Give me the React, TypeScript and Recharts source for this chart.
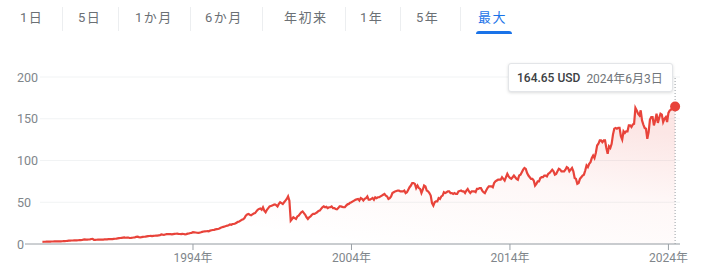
import React from 'react';
import { AreaChart, Area, XAxis, YAxis, CartesianGrid, ReferenceLine, ReferenceDot } from 'recharts';

// ---- data ----
const rangeTabs = ['1日', '5日', '1か月', '6か月', '年初来', '1年', '5年', '最大'];
const activeTab = '最大';

const years = [
  1984, 1985, 1986, 1987, 1988, 1989, 1990, 1991, 1992, 1993,
  1994, 1995, 1996, 1997, 1998, 1999, 2000, 2001, 2002, 2003,
  2004, 2005, 2006, 2007, 2008, 2009, 2010, 2011, 2012, 2013,
  2014, 2015, 2016, 2017, 2018, 2019, 2020, 2021, 2022, 2023, 2024,
];

// monthly closes (Jan..Dec), USD
const monthlyCloses: (number | null)[][] = [
  [null, null, null, null, null, null, 2.6, 2.7, 2.7, 2.8, 2.8, 2.9],
  [2.9, 3.0, 3.0, 3.1, 3.2, 3.2, 3.3, 3.2, 3.2, 3.3, 3.4, 3.5],
  [3.6, 3.8, 4.0, 4.1, 4.2, 4.2, 4.3, 4.4, 4.3, 4.5, 4.6, 4.6],
  [4.8, 5.2, 5.5, 5.3, 5.2, 5.4, 5.6, 6.0, 6.2, 4.9, 5.0, 5.1],
  [5.2, 5.3, 5.4, 5.3, 5.3, 5.5, 5.6, 5.5, 5.8, 5.9, 5.8, 5.9],
  [6.2, 6.3, 6.5, 6.8, 7.0, 7.2, 7.4, 7.6, 7.8, 7.5, 7.6, 7.7],
  [7.2, 7.3, 7.5, 7.8, 8.0, 8.6, 8.8, 8.2, 8.0, 8.2, 8.6, 8.7],
  [8.8, 9.2, 9.5, 9.6, 9.8, 9.5, 9.7, 9.9, 10.2, 10.1, 10.4, 10.5],
  [11.5, 11.2, 11.0, 11.4, 11.8, 11.9, 12.0, 11.8, 11.5, 11.9, 12.1, 12.3],
  [12.5, 12.2, 12.0, 11.8, 12.2, 12.0, 11.5, 11.8, 12.4, 12.6, 13.2, 13.4],
  [14.2, 14.0, 13.8, 13.5, 13.4, 13.6, 14.0, 14.5, 15.0, 15.2, 15.3, 15.5],
  [15.2, 16.0, 16.5, 16.8, 17.0, 17.5, 17.8, 18.0, 18.5, 19.5, 20.0, 20.5],
  [21.0, 21.5, 22.0, 22.5, 23.5, 23.0, 24.0, 24.2, 24.5, 25.5, 26.5, 27.0],
  [28.0, 29.0, 29.5, 31.0, 34.0, 35.5, 36.0, 35.0, 34.5, 35.5, 36.5, 37.0],
  [39.0, 41.0, 42.0, 42.5, 41.0, 44.0, 40.0, 38.0, 41.0, 43.0, 45.0, 45.5],
  [46.0, 47.0, 47.5, 46.5, 45.0, 48.0, 50.0, 49.0, 48.0, 50.0, 52.0, 54.0],
  [57.0, 52.0, 28.0, 30.0, 32.0, 31.0, 30.0, 33.0, 34.0, 36.0, 38.0, 39.0],
  [37.0, 35.0, 32.0, 30.0, 32.0, 33.0, 35.0, 36.0, 36.0, 37.0, 38.0, 39.5],
  [40.0, 42.0, 44.0, 45.0, 44.0, 44.5, 43.0, 44.0, 44.0, 45.0, 43.0, 43.0],
  [42.0, 41.5, 43.0, 45.0, 45.0, 44.5, 44.0, 44.0, 46.0, 47.5, 48.0, 49.5],
  [50.0, 51.0, 52.0, 53.0, 53.5, 54.0, 52.0, 55.0, 54.0, 52.0, 54.0, 55.0],
  [57.0, 53.0, 53.0, 54.0, 55.0, 53.0, 56.0, 55.0, 56.0, 56.0, 57.0, 58.0],
  [59.0, 60.0, 58.0, 57.0, 54.0, 55.0, 57.0, 61.0, 62.0, 63.0, 63.5, 64.0],
  [64.0, 63.0, 63.0, 63.0, 64.0, 61.0, 62.0, 65.0, 68.0, 70.0, 73.0, 73.0],
  [72.0, 67.0, 70.0, 67.0, 66.0, 61.0, 65.0, 70.0, 69.0, 64.0, 63.0, 61.0],
  [58.0, 49.0, 46.0, 50.0, 51.0, 51.0, 55.0, 54.0, 57.0, 58.0, 62.0, 61.0],
  [62.0, 63.0, 63.0, 61.0, 61.0, 60.0, 61.0, 60.0, 60.0, 63.0, 63.5, 64.0],
  [63.0, 63.0, 61.0, 64.0, 66.0, 63.0, 61.0, 63.0, 63.0, 63.0, 62.0, 66.0],
  [66.0, 67.0, 67.0, 64.0, 62.0, 61.0, 64.0, 67.0, 69.0, 69.0, 69.0, 68.0],
  [73.0, 75.0, 76.0, 77.0, 77.0, 77.0, 80.0, 78.0, 76.0, 80.0, 84.0, 81.0],
  [79.0, 78.0, 80.0, 82.0, 80.0, 78.0, 77.0, 82.0, 83.0, 86.0, 89.0, 91.0],
  [90.0, 85.0, 82.0, 80.0, 78.0, 78.0, 76.0, 70.0, 72.0, 75.0, 75.0, 79.0],
  [80.0, 80.0, 82.0, 82.0, 81.0, 84.0, 85.0, 87.0, 89.0, 87.0, 83.0, 84.0],
  [87.0, 90.0, 89.0, 87.0, 87.0, 87.0, 89.0, 92.0, 91.0, 87.0, 89.0, 91.0],
  [87.0, 79.0, 78.0, 72.0, 73.0, 78.0, 80.0, 82.0, 83.0, 88.0, 94.0, 92.0],
  [96.0, 98.0, 103.0, 106.0, 103.0, 109.0, 118.0, 120.0, 124.0, 124.0, 122.0, 124.0],
  [124.0, 115.0, 108.0, 117.0, 115.0, 120.0, 131.0, 138.0, 139.0, 138.0, 139.0, 139.0],
  [129.0, 125.0, 135.0, 133.0, 135.0, 135.0, 142.0, 142.0, 140.0, 143.0, 144.0, 163.0],
  [160.0, 156.0, 154.0, 160.0, 148.0, 143.0, 139.0, 138.0, 126.0, 134.0, 149.0, 152.0],
  [152.0, 142.0, 148.0, 156.0, 145.0, 151.0, 156.0, 155.0, 146.0, 150.0, 152.0, 146.0],
  [157.0, 160.0, 161.0, 163.0, 164.0, null, null, null, null, null, null, null],
];

const lastClose = 164.65;
const lastCurrency = 'USD';
const lastDateLabel = '2024年6月3日';
const lastDate = { year: 2024, month: 6, day: 3 };

const yTicks = [0, 50, 100, 150, 200];
const xTicks = [1994, 2004, 2014, 2024];
const xTickSuffix = '年';

// ---- build chart rows ----
const lastT = lastDate.year + (lastDate.month - 1) / 12 + (lastDate.day - 1) / 365;
const chartData: { t: number; price: number }[] = [];
years.forEach((y, i) => {
  monthlyCloses[i].forEach((v, m) => {
    if (v !== null) chartData.push({ t: y + m / 12, price: v });
  });
});
chartData.push({ t: lastT, price: lastClose });

// ---- styling / layout ----
const RED = '#e8433a';
const FONT = 'Roboto, Arial, "Noto Sans CJK JP", sans-serif';
const tabX = [20, 78, 135, 205, 284, 360, 416, 478];
const sepX = [62, 118, 190, 262, 345, 400, 460];

const YTick = (props: any) => {
  const { y, payload } = props;
  return (
    <text x={17} y={y} dy="0.36em" textAnchor="start" fill="#80868b" fontSize={12.5} fontFamily={FONT}>
      {payload.value}
    </text>
  );
};

export default function App() {
  return (
    <div
      style={{
        position: 'absolute',
        left: 0,
        top: 0,
        width: 709,
        height: 269,
        background: '#fff',
        fontFamily: FONT,
        overflow: 'hidden',
      }}
    >
      {rangeTabs.map((t, i) => (
        <span
          key={t}
          style={{
            position: 'absolute',
            left: tabX[i],
            top: 9,
            fontSize: 13,
            lineHeight: '18px',
            letterSpacing: 1.5,
            color: t === activeTab ? '#1a73e8' : '#6b7075',
            whiteSpace: 'nowrap',
          }}
        >
          {t}
        </span>
      ))}
      {sepX.map((x) => (
        <div key={x} style={{ position: 'absolute', left: x, top: 7, width: 1, height: 24, background: '#eceef0' }} />
      ))}
      <div
        style={{
          position: 'absolute',
          left: 476,
          top: 31,
          width: 36,
          height: 3,
          borderRadius: '3px 3px 0 0',
          background: '#1a73e8',
        }}
      />

      <div style={{ position: 'absolute', left: 0, top: 0 }}>
        <AreaChart
          width={709}
          height={269}
          data={chartData}
          margin={{ top: 77, right: 29, bottom: 0, left: 0 }}
        >
          <defs>
            <linearGradient id="pgFill" x1="0.5" y1="1" x2="1" y2="0.2">
              <stop offset="0%" stopColor={RED} stopOpacity={0} />
              <stop offset="55%" stopColor={RED} stopOpacity={0.07} />
              <stop offset="100%" stopColor={RED} stopOpacity={0.22} />
            </linearGradient>
          </defs>
          <CartesianGrid horizontal vertical={false} x={40} width={640} stroke="#f1f3f4" />
          <XAxis
            dataKey="t"
            type="number"
            domain={[1983.4, 2024.73]}
            ticks={xTicks}
            tickFormatter={(v: number) => `${v}${xTickSuffix}`}
            allowDataOverflow
            height={25}
            stroke="#9aa0a6"
            tickSize={6}
            tickMargin={3}
            tick={{ fill: '#80868b', fontSize: 12, fontFamily: FONT }}
          />
          <YAxis
            type="number"
            domain={[0, 200]}
            ticks={yTicks}
            width={25}
            axisLine={false}
            tickLine={false}
            tick={<YTick />}
          />
          <ReferenceLine x={lastT} stroke="#9aa0a6" strokeDasharray="1 2" strokeWidth={1} />
          <Area
            type="linear"
            dataKey="price"
            stroke={RED}
            strokeWidth={2.2}
            fill="url(#pgFill)"
            isAnimationActive={false}
            dot={false}
            activeDot={false}
          />
          <ReferenceDot x={lastT} y={lastClose} r={5} fill={RED} stroke="none" />
        </AreaChart>
      </div>

      <div
        style={{
          position: 'absolute',
          left: 508,
          top: 63,
          width: 165,
          height: 29,
          background: '#fff',
          border: '1px solid #e3e5e8',
          borderRadius: 3,
          boxShadow: '0 1px 3px rgba(60,64,67,0.18)',
          boxSizing: 'border-box',
          display: 'flex',
          alignItems: 'center',
          paddingLeft: 8,
          fontSize: 12,
          whiteSpace: 'nowrap',
        }}
      >
        <span style={{ color: '#3c4043', fontWeight: 500 }}>
          {lastClose.toFixed(2)} {lastCurrency}
        </span>
        <span style={{ color: '#70757a', marginLeft: 6 }}>{lastDateLabel}</span>
      </div>
    </div>
  );
}
